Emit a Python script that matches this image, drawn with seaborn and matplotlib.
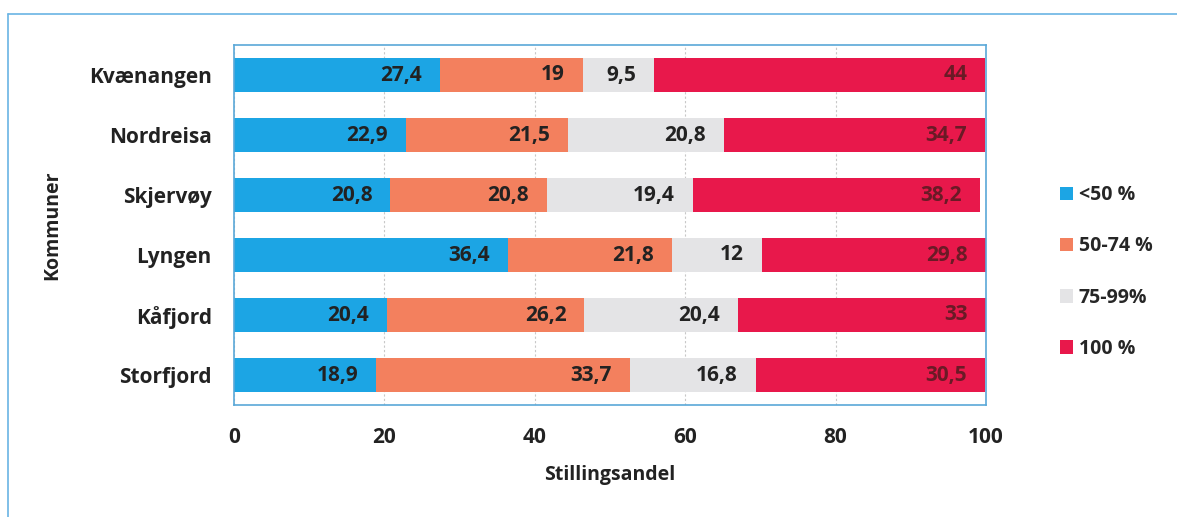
import matplotlib
matplotlib.use("Agg")
import matplotlib.pyplot as plt
import numpy as np
import pandas as pd
import seaborn as sns
from matplotlib.patches import Patch
from matplotlib.lines import Line2D

kommuner = ["Kvænangen", "Nordreisa", "Skjervøy", "Lyngen", "Kåfjord", "Storfjord"]
series_names = ["<50 %", "50-74 %", "75-99%", "100 %"]
under_50 = [27.4, 22.9, 20.8, 36.4, 20.4, 18.9]
p50_74 = [19, 21.5, 20.8, 21.8, 26.2, 33.7]
p75_99 = [9.5, 20.8, 19.4, 12, 20.4, 16.8]
p100 = [44, 34.7, 38.2, 29.8, 33, 30.5]

colors = ["#1ca5e4", "#f3805e", "#e4e4e6", "#e8184b"]
label_colors = ["#222222", "#222222", "#222222", "#6a1a26"]


def fmt(v):
    s = f"{v:g}"
    return s.replace(".", ",")


def main():
    sns.set_theme(style="white")
    plt.rcParams["font.family"] = ["Open Sans", "DejaVu Sans"]
    plt.rcParams["font.weight"] = "bold"

    df = pd.DataFrame(
        {"kommune": kommuner, series_names[0]: under_50, series_names[1]: p50_74,
         series_names[2]: p75_99, series_names[3]: p100}
    )
    cum = df[series_names].cumsum(axis=1)

    fig = plt.figure(figsize=(11.77, 5.17), dpi=100)
    ax = fig.add_axes([234 / 1177, 1 - 405 / 517, (986 - 234) / 1177, 360 / 517])

    # stacked bars: draw cumulative totals from the back to the front
    for i in reversed(range(len(series_names))):
        sns.barplot(x=cum[series_names[i]], y=df["kommune"], orient="h", color=colors[i],
                    width=0.57, saturation=1, ax=ax, edgecolor="none")

    for i, name in enumerate(series_names):
        for j, k in enumerate(kommuner):
            ax.annotate(fmt(df[name][j]), xy=(cum[name][j], j), xytext=(-13, 0),
                        textcoords="offset points", ha="right", va="center",
                        fontsize=15, fontweight="bold", color=label_colors[i])

    ax.set_xlim(0, 100)
    ax.set_ylim(5.5, -0.5)
    ax.set_xticks([0, 20, 40, 60, 80, 100])
    ax.xaxis.grid(True, color="#c8c8c8", linewidth=0.8, linestyle=(0, (2, 2)))
    ax.set_axisbelow(True)
    for s in ax.spines.values():
        s.set_color("#5aa8d8")
        s.set_linewidth(1.2)
    ax.tick_params(axis="y", length=0, labelsize=15, colors="#222222", pad=16)
    ax.tick_params(axis="x", length=0, labelsize=15, colors="#222222", pad=16)
    for lab in ax.get_xticklabels() + ax.get_yticklabels():
        lab.set_fontweight("bold")
    ax.set_xlabel("Stillingsandel", fontsize=14, fontweight="bold", color="#222222", labelpad=12)
    ax.set_ylabel("Kommuner", fontsize=14, fontweight="bold", color="#222222", labelpad=14)
    ax.yaxis.set_label_coords((62 - 234) / (986 - 234), 0.5)

    handles = [Patch(facecolor=c, edgecolor="none") for c in colors]
    fig.legend(handles, series_names, loc="center left", bbox_to_anchor=(1042 / 1177, 1 - 272 / 517),
               frameon=False, handlelength=0.7, handleheight=0.7,
               handletextpad=0.3, labelspacing=1.6, prop={"weight": "bold", "size": 14})

    # outer chart frame
    fig.add_artist(Line2D([8 / 1177, 8 / 1177], [0, 1 - 14 / 517], color="#6ab4e4", linewidth=1.2))
    fig.add_artist(Line2D([8 / 1177, 1], [1 - 14 / 517, 1 - 14 / 517], color="#6ab4e4", linewidth=1.2))

    fig.savefig("out.png", dpi=100)
    plt.close(fig)


if __name__ == "__main__":
    main()
